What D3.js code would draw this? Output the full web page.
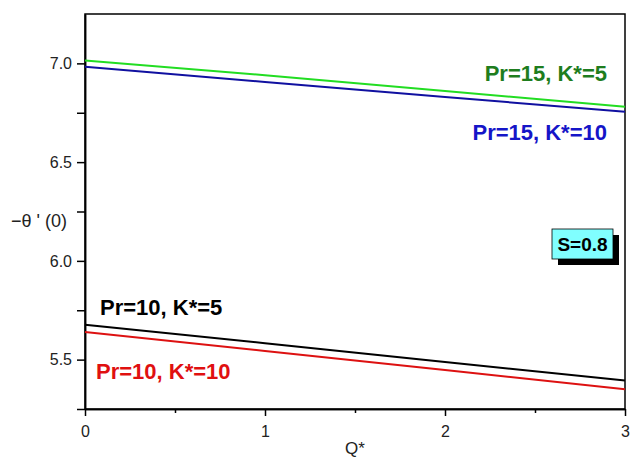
<!DOCTYPE html>
<html>
<head>
<meta charset="utf-8">
<script src="https://cdn.jsdelivr.net/npm/d3@7"></script>
<style>
	body { margin: 0; background: #fff; }
	text { font-family: "Liberation Sans", Arial, sans-serif; }
</style>
</head>
<body>
<div id="chartDiv"></div>
<script>
;(function() {

	var width = 634;
	var height = 460;
	var margin = { top: 14, right: 9, bottom: 51, left: 85 };

	// data
	var qValues = [0, 1, 2, 3];
	var pr15k5 = [7.015, 6.94, 6.86, 6.78];
	var pr15k10 = [6.983, 6.906, 6.83, 6.755];
	var pr10k5 = [5.677, 5.583, 5.488, 5.394];
	var pr10k10 = [5.64, 5.544, 5.447, 5.35];

	var seriesNames = ["Pr=15, K*=5", "Pr=15, K*=10", "Pr=10, K*=5", "Pr=10, K*=10"];
	var seriesValues = [pr15k5, pr15k10, pr10k5, pr10k10];
	var lineColors = ["#22dd22", "#1010a0", "#000000", "#dd1111"];
	var labelColors = ["#1e7d1e", "#1515c8", "#000000", "#e01010"];

	var xTicks = [0, 1, 2, 3];
	var xMinorTicks = [0.5, 1.5, 2.5];
	var yTicks = [5.5, 6.0, 6.5, 7.0];
	var yMinorTicks = [5.25, 5.75, 6.25, 6.75];
	var xDomain = [0, 3];
	var yDomain = [5.25, 7.25];

	var chartWidth = width - margin.left - margin.right;
	var chartHeight = height - margin.top - margin.bottom;

	var svg = d3.select("#chartDiv").append("svg")
		.attr("width", width)
		.attr("height", height);

	var plot = svg.append("g")
		.attr("transform", "translate(" + margin.left + "," + margin.top + ")");

	var xScale = d3.scaleLinear().domain(xDomain).range([0, chartWidth]);
	var yScale = d3.scaleLinear().domain(yDomain).range([chartHeight, 0]);

	// frame
	plot.append("rect")
		.attr("width", chartWidth)
		.attr("height", chartHeight)
		.attr("fill", "none")
		.attr("stroke", "#000")
		.attr("stroke-width", 1.5);

	// x axis
	var xAxis = plot.append("g")
		.attr("transform", "translate(0," + chartHeight + ")")
		.call(d3.axisBottom(xScale).tickValues(xTicks).tickFormat(d3.format("d")).tickSize(7).tickSizeOuter(0));
	plot.append("g")
		.attr("transform", "translate(0," + chartHeight + ")")
		.call(d3.axisBottom(xScale).tickValues(xMinorTicks).tickFormat("").tickSize(4).tickSizeOuter(0));

	// y axis
	var yAxis = plot.append("g")
		.call(d3.axisLeft(yScale).tickValues(yTicks).tickFormat(d3.format(".1f")).tickSize(8).tickSizeOuter(0));
	plot.append("g")
		.call(d3.axisLeft(yScale).tickValues(yMinorTicks).tickFormat("").tickSize(8).tickSizeOuter(0));

	plot.selectAll(".domain").attr("stroke-width", 1.5);
	plot.selectAll(".tick line").attr("stroke-width", 1.5);
	plot.selectAll(".tick text")
		.style("font-size", "16px")
		.style("font-family", "'Liberation Sans', Arial, sans-serif")
		.attr("fill", "#222");
	xAxis.selectAll(".tick text").attr("dy", "1.15em");
	yAxis.selectAll(".tick text").attr("x", -13);

	// axis titles
	svg.append("text")
		.attr("x", margin.left + chartWidth / 2)
		.attr("y", 454)
		.attr("text-anchor", "middle")
		.style("font-size", "17px")
		.attr("fill", "#222")
		.text("Q*");

	svg.append("text")
		.attr("x", 11)
		.attr("y", 227)
		.style("font-size", "18px")
		.attr("fill", "#222")
		.text("\u2212\u03b8 ' (0)");

	// lines
	var line = d3.line()
		.x(function(d, i) { return xScale(qValues[i]); })
		.y(function(d) { return yScale(d); });

	plot.selectAll(".series")
		.data(seriesValues)
		.enter().append("path")
		.attr("class", "series")
		.attr("d", line)
		.attr("fill", "none")
		.attr("stroke", function(d, i) { return lineColors[i]; })
		.attr("stroke-width", 2);

	// series labels
	var labelPos = [
		{ x: 607, y: 81, anchor: "end" },
		{ x: 607, y: 140, anchor: "end" },
		{ x: 100, y: 315, anchor: "start" },
		{ x: 96, y: 379, anchor: "start" }
	];
	svg.selectAll(".label")
		.data(seriesNames)
		.enter().append("text")
		.attr("class", "label")
		.attr("x", function(d, i) { return labelPos[i].x; })
		.attr("y", function(d, i) { return labelPos[i].y; })
		.attr("text-anchor", function(d, i) { return labelPos[i].anchor; })
		.attr("fill", function(d, i) { return labelColors[i]; })
		.style("font-size", "22px")
		.style("font-weight", "bold")
		.text(function(d) { return d; });

	// S=0.8 box with shadow
	var box = svg.append("g").attr("transform", "translate(552,229)");
	box.append("rect")
		.attr("x", 6).attr("y", 6)
		.attr("width", 61).attr("height", 30)
		.attr("fill", "#000");
	box.append("rect")
		.attr("width", 61).attr("height", 30)
		.attr("fill", "#80ffff")
		.attr("stroke", "#000")
		.attr("stroke-width", 0.8);
	box.append("text")
		.attr("x", 30.5).attr("y", 22)
		.attr("text-anchor", "middle")
		.style("font-size", "19px")
		.style("font-weight", "bold")
		.text("S=0.8");

})();
</script>
</body>
</html>
